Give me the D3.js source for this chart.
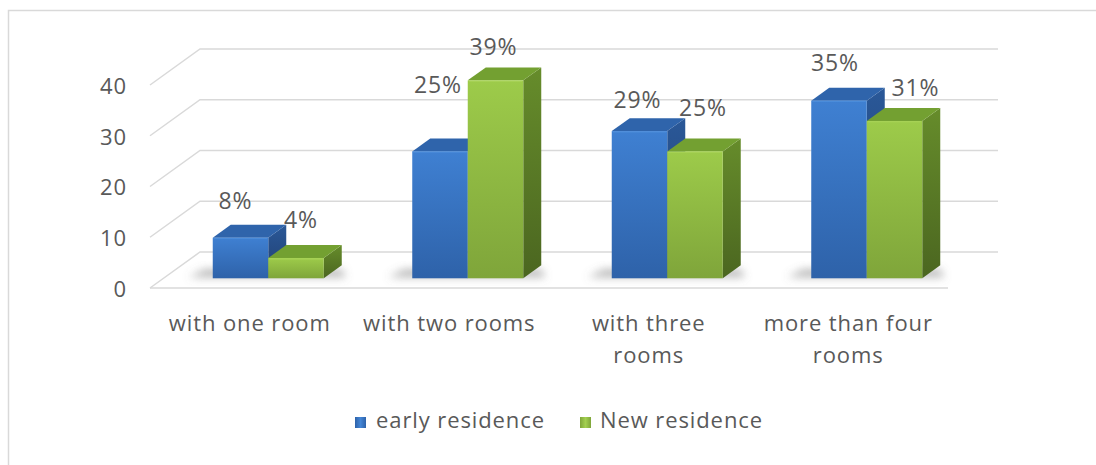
<!DOCTYPE html>
<html>
<head>
<meta charset="utf-8">
<script src="https://cdn.jsdelivr.net/npm/d3@7"></script>
<style>
  html, body { margin: 0; padding: 0; background: #fff; }
  svg { display: block; }
  text { font-family: "Open Sans", "Noto Sans", sans-serif; fill: #595959; letter-spacing: 0.9px; }
</style>
</head>
<body>
<svg id="chart" width="1096" height="465"></svg>
<script>
// ---- data ----
const categories = ["with one room", "with two rooms", "with three rooms", "more than four rooms"];
const categoryLines = [["with one room"], ["with two rooms"], ["with three", "rooms"], ["more than four", "rooms"]];
const seriesNames = ["early residence", "New residence"];
const earlyResidence = [8, 25, 29, 35];
const newResidence = [4, 39, 25, 31];
const yTicks = [0, 10, 20, 30, 40];

// ---- layout ----
const W = 1096, H = 465;
const FONT = 22;
const svg = d3.select("#chart");
const defs = svg.append("defs");

// oblique depth of the plot box (front plane -> back wall)
const DX = 50, DY = -36;
// bars sit between these depth fractions
const D_FRONT = 0.27, D_BACK = 0.63;
const BAR_W = 55.5;

const x = d3.scaleBand().domain(categories).range([150, 948]).paddingInner(0).paddingOuter(0);
const y = d3.scaleLinear().domain([0, 40]).range([288, 85]);

// frame
svg.append("rect").attr("x", 0).attr("y", 0).attr("width", W).attr("height", H).attr("fill", "#fff");
svg.append("rect")
  .attr("x", 8.5).attr("y", 10.5).attr("width", W + 20).attr("height", H + 20)
  .attr("fill", "none").attr("stroke", "#d9d9d9").attr("stroke-width", 1.5);

// gridlines: side diagonal + back wall line
const grid = svg.append("g").attr("fill", "none").attr("stroke", "#d9d9d9").attr("stroke-width", 1.5);
yTicks.forEach(t => {
  const yf = y(t);
  grid.append("path")
    .attr("d", `M${x.range()[0]},${yf} L${x.range()[0] + DX},${yf + DY} L${x.range()[1] + DX},${yf + DY}`);
});
// front floor edge
grid.append("line")
  .attr("x1", x.range()[0]).attr("x2", x.range()[1])
  .attr("y1", y(0)).attr("y2", y(0));

// y tick labels
svg.append("g").selectAll("text").data(yTicks).join("text")
  .attr("x", 127).attr("y", d => y(d) + 1)
  .attr("dy", "0.36em")
  .attr("text-anchor", "end")
  .attr("font-size", FONT)
  .text(d => d);

// gradients
function vGrad(id, stops) {
  const g = defs.append("linearGradient").attr("id", id)
    .attr("x1", 0).attr("y1", 0).attr("x2", 0).attr("y2", 1);
  stops.forEach(([o, c]) => g.append("stop").attr("offset", o).attr("stop-color", c));
}
function hGrad(id, stops) {
  const g = defs.append("linearGradient").attr("id", id)
    .attr("x1", 0).attr("y1", 0).attr("x2", 1).attr("y2", 0);
  stops.forEach(([o, c]) => g.append("stop").attr("offset", o).attr("stop-color", c));
}
vGrad("blueFront", [[0, "#3f80d2"], [1, "#2e62a9"]]);
vGrad("greenFront", [[0, "#9dcb4a"], [1, "#7fa53a"]]);
vGrad("blueSide", [[0, "#2a5898"], [1, "#213f70"]]);
vGrad("greenSide", [[0, "#668c2b"], [1, "#4b6620"]]);
hGrad("legBlue", [[0, "#2e62a9"], [0.5, "#4486d6"], [1, "#2e62a9"]]);
hGrad("legGreen", [[0, "#7fa53a"], [0.5, "#a3d050"], [1, "#7fa53a"]]);

const palette = [
  { front: "url(#blueFront)", top: "#2f64ab", side: "url(#blueSide)", edge: "#4f8fdc", legend: "url(#legBlue)" },
  { front: "url(#greenFront)", top: "#73a031", side: "url(#greenSide)", edge: "#acd65c", legend: "url(#legGreen)" }
];

const shadowFilter = defs.append("filter").attr("id", "shadowBlur")
  .attr("x", "-30%").attr("y", "-100%").attr("width", "160%").attr("height", "300%");
shadowFilter.append("feGaussianBlur").attr("stdDeviation", 4);

const series = [earlyResidence, newResidence];
const ddx = DX * (D_BACK - D_FRONT), ddy = DY * (D_BACK - D_FRONT);
const frontShift = DX * D_FRONT, frontLift = DY * D_FRONT;
const PAIR_SHIFT = 5;

function barX(ci, si) {
  const c = categories[ci];
  return x(c) + x.bandwidth() / 2 - BAR_W + frontShift + PAIR_SHIFT + si * BAR_W;
}

// floor shadows under each pair
const shadows = svg.append("g").attr("filter", "url(#shadowBlur)");
categories.forEach((c, ci) => {
  const x0 = barX(ci, 0), x1 = barX(ci, 1) + BAR_W;
  const yb = y(0) + frontLift;
  shadows.append("path")
    .attr("d", `M${x0 - 24},${yb - 1} L${x1 + ddx + 4},${yb - 1} L${x1 + ddx},${yb + ddy + 4} L${x0 - 8},${yb + ddy + 4} Z`)
    .attr("fill", "#707070").attr("opacity", 0.5);
});

// bars: front, top and right faces
const barsG = svg.append("g");
categories.forEach((c, ci) => {
  series.forEach((vals, si) => {
    const v = vals[ci];
    const p = palette[si];
    const x0 = barX(ci, si), x1 = x0 + BAR_W;
    const yb = y(0) + frontLift, yt = y(v) + frontLift;
    const g = barsG.append("g");
    g.append("path")
      .attr("d", `M${x1},${yt} L${x1 + ddx},${yt + ddy} L${x1 + ddx},${yb + ddy} L${x1},${yb} Z`)
      .attr("fill", p.side);
    g.append("path")
      .attr("d", `M${x0},${yt} L${x1},${yt} L${x1 + ddx},${yt + ddy} L${x0 + ddx},${yt + ddy} Z`)
      .attr("fill", p.top);
    g.append("rect")
      .attr("x", x0).attr("y", yt).attr("width", BAR_W).attr("height", yb - yt)
      .attr("fill", p.front);
    g.append("line")
      .attr("x1", x0 + 1).attr("x2", x1 - 1).attr("y1", yt + 0.8).attr("y2", yt + 0.8)
      .attr("stroke", p.edge).attr("stroke-width", 1.2).attr("opacity", 0.8);
  });
});

// value labels (fine offsets keep each label clear of neighbouring bars)
const labelNudge = [
  [[-5, -2], [5, -3]],
  [[-2, -31], [-2, 2]],
  [[-2, 4], [8, -8]],
  [[-4, -3], [21, 2]]
];
const labels = svg.append("g");
categories.forEach((c, ci) => {
  series.forEach((vals, si) => {
    const v = vals[ci];
    const [nx, ny] = labelNudge[ci][si];
    const cx = barX(ci, si) + BAR_W / 2 + nx;
    const ty = y(v) + frontLift + ddy - 14 + ny;
    labels.append("text")
      .attr("x", cx).attr("y", ty)
      .attr("text-anchor", "middle")
      .attr("font-size", FONT + 1)
      .attr("fill", "#404040")
      .text(v + "%");
  });
});

// category labels
const catG = svg.append("g");
categories.forEach((c, ci) => {
  const t = catG.append("text")
    .attr("x", x(c) + x.bandwidth() / 2)
    .attr("y", 331)
    .attr("text-anchor", "middle")
    .attr("font-size", FONT);
  categoryLines[ci].forEach((line, li) => {
    t.append("tspan")
      .attr("x", x(c) + x.bandwidth() / 2)
      .attr("dy", li === 0 ? 0 : 32)
      .text(line);
  });
});

// legend
const legend = svg.append("g");
const legendItems = [
  { name: seriesNames[0], sx: 355, tx: 376 },
  { name: seriesNames[1], sx: 580, tx: 600 }
];
legendItems.forEach((it, i) => {
  legend.append("rect")
    .attr("x", it.sx).attr("y", 417).attr("width", 11).attr("height", 11)
    .attr("fill", palette[i].legend);
  legend.append("text")
    .attr("x", it.tx).attr("y", 420)
    .attr("dy", "0.36em")
    .attr("font-size", FONT)
    .text(it.name);
});
</script>
</body>
</html>
